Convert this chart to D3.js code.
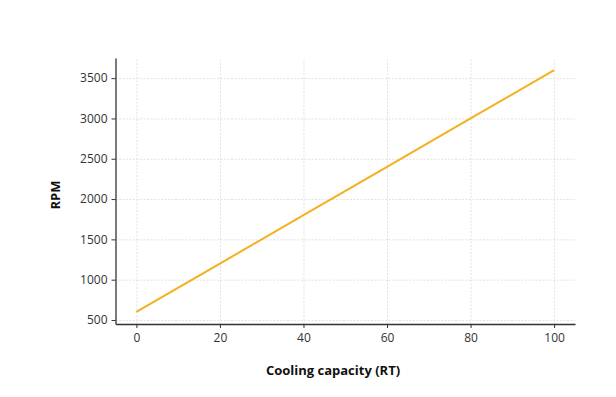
<!DOCTYPE html>
<html>
<head>
    <meta charset="UTF-8">
    <style type="text/css">
        body { margin: 0; background: #fff; }
        .grid line { stroke: #d9d9d9; stroke-width: 0.8px; stroke-dasharray: 2,1.5; }
        .grid path { display: none; }
        .axis path, .axis line { stroke: #333; }
        .axis text { fill: #333; font-family: "Open Sans", sans-serif; font-size: 12px; }
        .line { fill: none; stroke: #f2b11d; stroke-width: 2px; }
        .label { font-family: "Open Sans", sans-serif; font-weight: bold; font-size: 13px; fill: #111; }
    </style>
    <script src="https://d3js.org/d3.v7.min.js"></script>
</head>
<body>
    <script type="text/javascript">
        // chart data
        var capacity = [0, 20, 40, 60, 80, 100];
        var rpm = [600, 1200, 1800, 2400, 3000, 3600];
        var xTicks = [0, 20, 40, 60, 80, 100];
        var yTicks = [500, 1000, 1500, 2000, 2500, 3000, 3500];

        var margin = { top: 58, right: 41, bottom: 73, left: 115.5 },
            width = 616 - margin.left - margin.right,
            height = 397 - margin.top - margin.bottom;

        var svg = d3.select("body").append("svg")
            .attr("width", 616)
            .attr("height", 397);

        var g = svg.append("g")
            .attr("transform", "translate(" + margin.left + "," + margin.top + ")");

        var x = d3.scaleLinear().domain([-5, 105]).range([0, width]);
        var y = d3.scaleLinear().domain([450, 3750]).range([height, 0]);

        // gridlines
        g.append("g").attr("class", "grid")
            .attr("transform", "translate(0," + height + ")")
            .call(d3.axisBottom(x).tickValues(xTicks).tickSize(-height).tickFormat(""));
        g.append("g").attr("class", "grid")
            .call(d3.axisLeft(y).tickValues(yTicks).tickSize(-width).tickFormat(""));

        var data = capacity.map(function(c, i) { return { x: c, y: rpm[i] }; });

        var valueline = d3.line()
            .x(function(d) { return x(d.x); })
            .y(function(d) { return y(d.y); });

        g.append("path")
            .datum(data)
            .attr("class", "line")
            .attr("d", valueline);

        // axes
        var xAxis = g.append("g").attr("class", "axis")
            .attr("transform", "translate(0," + height + ")")
            .call(d3.axisBottom(x).tickValues(xTicks).tickFormat(d3.format("d"))
                .tickSize(4).tickSizeOuter(0).tickPadding(5));
        var yAxis = g.append("g").attr("class", "axis")
            .call(d3.axisLeft(y).tickValues(yTicks).tickFormat(d3.format("d"))
                .tickSize(4).tickSizeOuter(0).tickPadding(4));
        xAxis.select(".domain").attr("stroke-width", 1.3);
        yAxis.select(".domain").attr("stroke-width", 1.3);

        // axis labels
        svg.append("text")
            .attr("class", "label")
            .attr("x", 333)
            .attr("y", 375)
            .style("text-anchor", "middle")
            .text("Cooling capacity (RT)");

        svg.append("text")
            .attr("class", "label")
            .attr("transform", "translate(60,195) rotate(-90)")
            .style("text-anchor", "middle")
            .text("RPM");
    </script>
</body>
</html>
